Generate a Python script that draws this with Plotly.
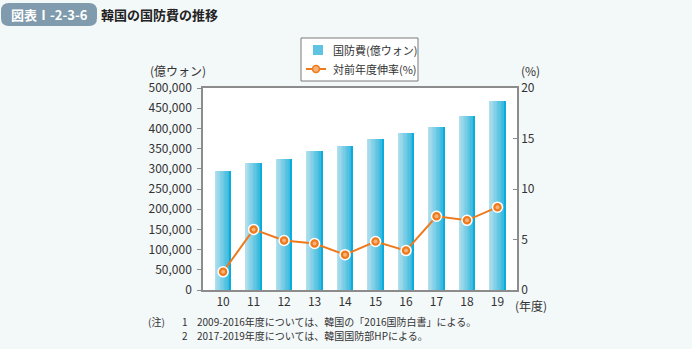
import plotly.graph_objects as go

# ---- data ----
years = ["10", "11", "12", "13", "14", "15", "16", "17", "18", "19"]
budget = [295000, 314000, 325000, 343500, 357000, 374600, 388000, 403300, 431600, 467000]  # 億ウォン
growth = [1.8, 6.0, 4.9, 4.6, 3.5, 4.8, 3.9, 7.3, 6.9, 8.2]  # 対前年度伸率(%)

W, H = 692, 349
L, R, T, B = 203, 517, 88, 290  # plot area in pixels
FONT = "Noto Sans CJK JP"
TXT = "#333333"
AXIS = "#8c8c8c"


def px(x):
    return (x - L) / (R - L)


def py(y):
    return (B - y) / (B - T)


fig = go.Figure()

# bars drawn as thin vertical slices to give the horizontal shading
bar_w = 0.52
n = 12
c0 = (178, 223, 238)
c1 = (48, 182, 220)
for i in range(n):
    t = i / (n - 1)
    col = tuple(round(a + (b - a) * t) for a, b in zip(c0, c1))
    if i == n - 1:
        col = (10, 172, 222)
    fig.add_trace(go.Bar(
        x=years, y=budget, width=bar_w / n + 0.004,
        offset=-bar_w / 2 + i * bar_w / n,
        marker=dict(color="rgb(%d,%d,%d)" % col, line=dict(width=0)),
        showlegend=False, hoverinfo="skip",
    ))

# growth-rate line on the secondary axis
fig.add_trace(go.Scatter(
    x=years, y=growth, yaxis="y2", mode="lines+markers",
    line=dict(color="#ee7a1c", width=2),
    marker=dict(size=10, color="#ee7a1c", line=dict(color="white", width=1.5)),
    showlegend=False,
))
fig.add_trace(go.Scatter(
    x=years, y=growth, yaxis="y2", mode="markers",
    marker=dict(size=4, color="#f7b37a"),
    showlegend=False, hoverinfo="skip",
))

shapes = []
annotations = []


def rrect(x0, y0, x1, y1, r, fill, line=None, lw=0):
    X0, X1 = px(x0), px(x1)
    Y0, Y1 = py(y0), py(y1)
    rx = r / (R - L)
    ry = r / (B - T)
    path = (
        f"M {X0+rx},{Y0} L {X1-rx},{Y0} Q {X1},{Y0} {X1},{Y0-ry} "
        f"L {X1},{Y1+ry} Q {X1},{Y1} {X1-rx},{Y1} L {X0+rx},{Y1} "
        f"Q {X0},{Y1} {X0},{Y1+ry} L {X0},{Y0-ry} Q {X0},{Y0} {X0+rx},{Y0} Z"
    )
    shapes.append(dict(type="path", path=path, xref="paper", yref="paper",
                       fillcolor=fill, line=dict(color=line or fill, width=lw), layer="below"))


def text(x, y, s, size=12, color=TXT, anchor="left", bold=False, yanchor="middle"):
    annotations.append(dict(
        x=px(x), y=py(y), xref="paper", yref="paper", text=("<b>%s</b>" % s) if bold else s,
        showarrow=False, xanchor=anchor, yanchor=yanchor, borderpad=0,
        font=dict(family=FONT, size=size, color=color),
    ))


# title badge
rrect(1, 3, 97, 26, 8, "#7f9bad")
text(49, 14.5, "図表Ⅰ-2-3-6", size=13, color="white", anchor="center", bold=True)
text(100, 14.5, "韓国の国防費の推移", size=13, color="#222222", bold=True)

# legend box
shapes.append(dict(type="rect", xref="paper", yref="paper",
                   x0=px(301), x1=px(418), y0=py(38), y1=py(81),
                   fillcolor="white", line=dict(color="#7a7a7a", width=1)))
shapes.append(dict(type="rect", xref="paper", yref="paper",
                   x0=px(313), x1=px(323), y0=py(45), y1=py(55),
                   fillcolor="#5fc3e3", line=dict(width=0)))
shapes.append(dict(type="line", xref="paper", yref="paper",
                   x0=px(306), x1=px(326), y0=py(69), y1=py(69),
                   line=dict(color="#ee7a1c", width=2)))
shapes.append(dict(type="circle", xref="paper", yref="paper",
                   x0=px(312.5), x1=px(319.5), y0=py(65.5), y1=py(72.5),
                   fillcolor="#f7b37a", line=dict(color="#ee7a1c", width=1.5)))
text(332, 50, "国防費(億ウォン)", size=11)
text(332, 69, "対前年度伸率(%)", size=11)

# axis unit labels
text(178, 70.5, "(億ウォン)", size=12, anchor="center")
text(530, 70.5, "(%)", size=12, anchor="center")
text(514, 305, "(年度)", size=12)

# notes
text(147, 321, "(注)", size=10)
text(181, 321, "1", size=10)
text(196, 321, "2009-2016年度については、韓国の「2016国防白書」による。", size=10)
text(181, 335, "2", size=10)
text(196, 335, "2017-2019年度については、韓国国防部HPによる。", size=10)

fig.update_layout(
    width=W, height=H,
    margin=dict(l=L, r=W - R, t=T, b=H - B, pad=0),
    paper_bgcolor="#f3f8f9", plot_bgcolor="white",
    barmode="overlay", bargap=0,
    showlegend=False,
    font=dict(family=FONT, size=12, color=TXT),
    xaxis=dict(type="category", range=[-0.66, 9.64], showgrid=False,
               showline=True, linecolor=AXIS, linewidth=1.5, mirror=True,
               ticks="", tickfont=dict(size=12, color=TXT), fixedrange=True),
    yaxis=dict(range=[0, 500000], dtick=50000, tickformat=",d", showgrid=False,
               showline=True, linecolor=AXIS, linewidth=1.5, zeroline=False,
               ticks="outside", ticklen=4, tickcolor=AXIS, ticklabelstandoff=3,
               tickfont=dict(size=12, color=TXT)),
    yaxis2=dict(range=[0, 20], dtick=5, overlaying="y", side="right", showgrid=False,
                showline=True, linecolor=AXIS, linewidth=1.5, zeroline=False,
                ticks="inside", ticklen=4, tickcolor=AXIS,
                tickfont=dict(size=12, color=TXT)),
    shapes=shapes, annotations=annotations,
)

fig.write_html("out.html")
